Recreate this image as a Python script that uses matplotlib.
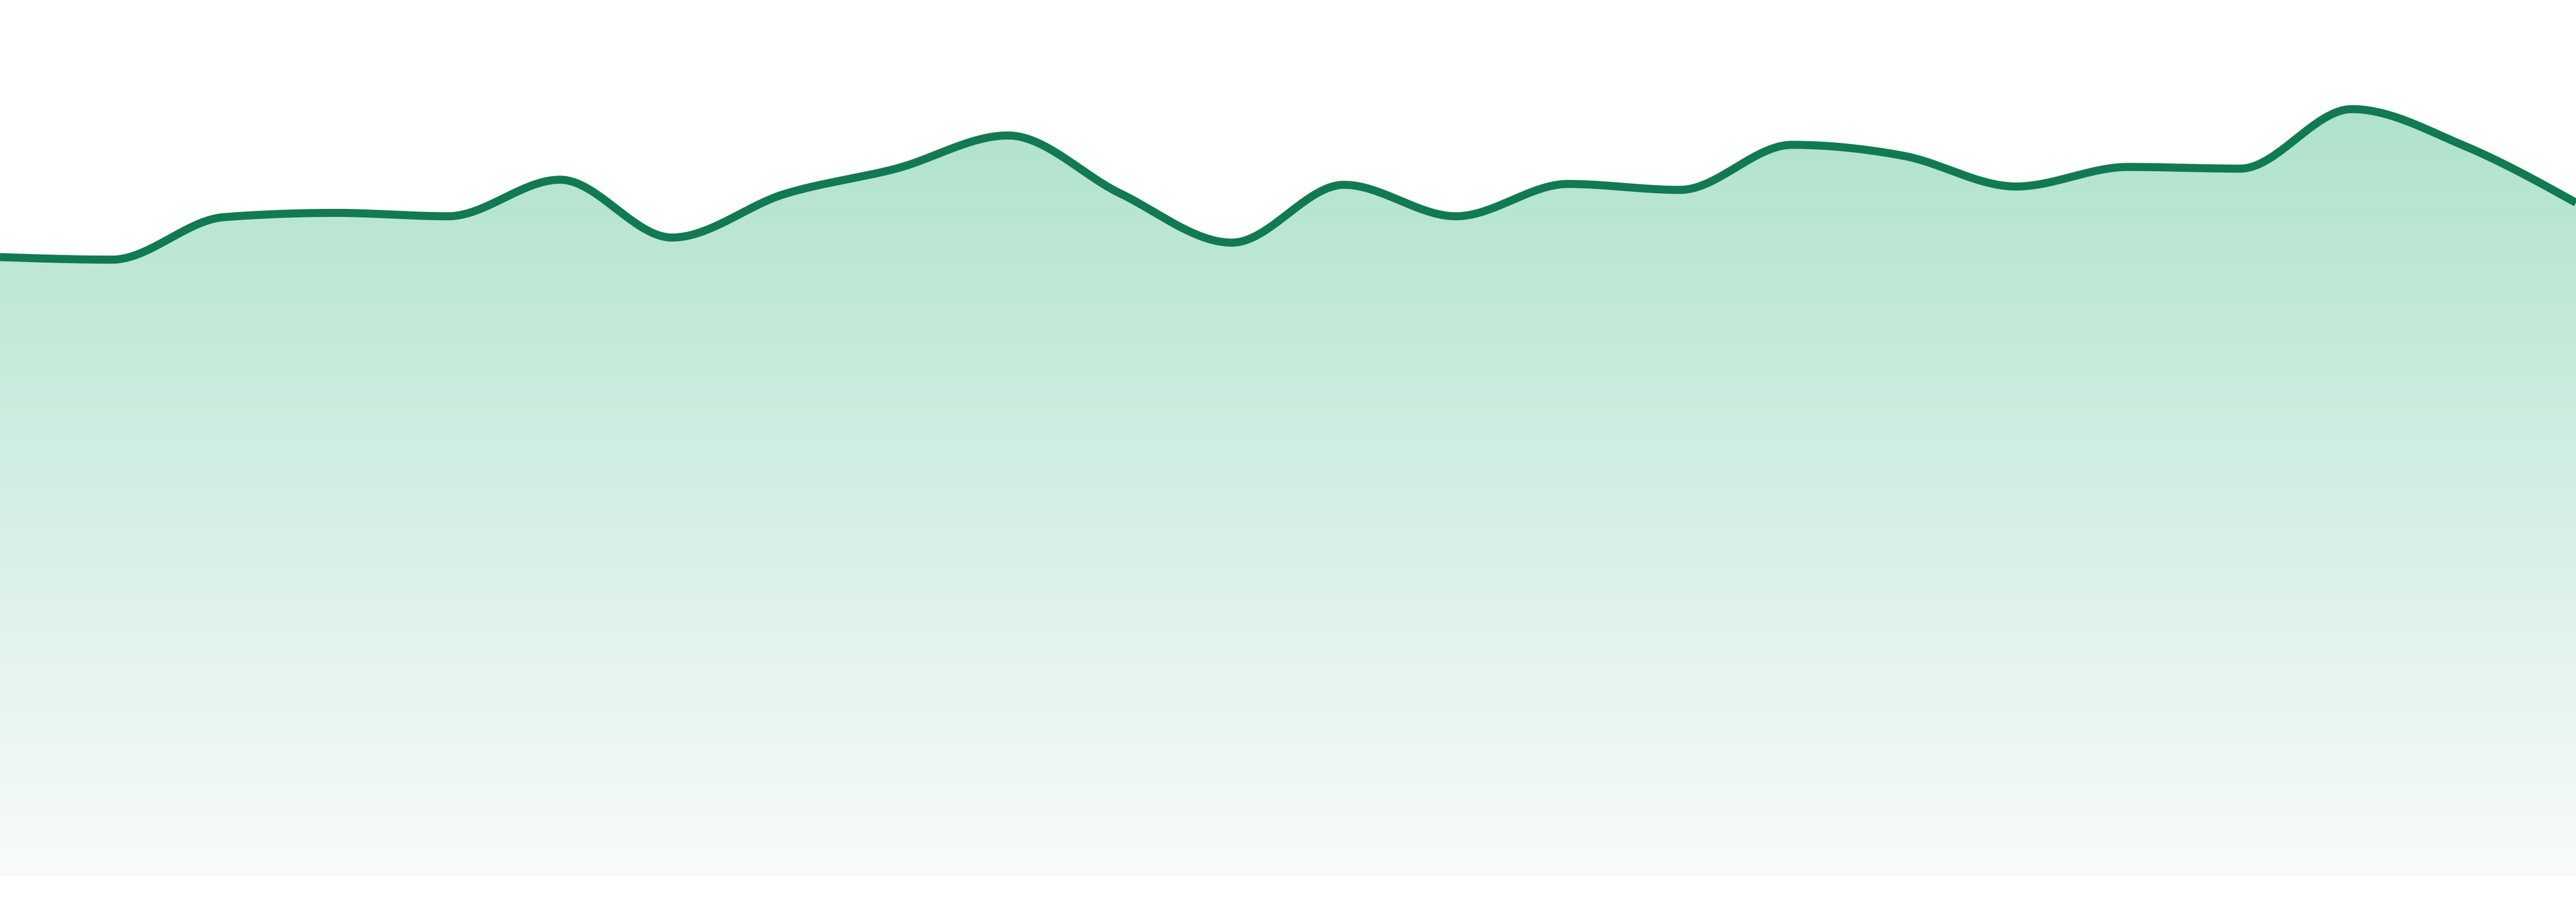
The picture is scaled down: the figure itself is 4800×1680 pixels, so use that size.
import numpy as np
import matplotlib
matplotlib.use("Agg")
import matplotlib.pyplot as plt
from matplotlib.patches import Polygon

# ---- data ----
x_index = list(range(24))
values = [72.8, 72.5, 77.5, 78.0, 77.6, 81.9, 75.1, 80.2, 83.2, 87.1, 80.3, 74.5,
          81.3, 77.6, 81.4, 80.7, 86.0, 84.7, 81.1, 83.4, 83.2, 90.2, 85.9, 79.2]

line_color = "#117a52"
top_rgb = (0.655, 0.878, 0.784)
bottom_rgb = (0.976, 0.984, 0.980)


def monotone_x(xs, ys, n=40):
    """d3.curveMonotoneX style interpolation."""
    xs = np.asarray(xs, float)
    ys = np.asarray(ys, float)
    m = len(xs)
    h = np.diff(xs)
    s = np.diff(ys) / h
    t = np.zeros(m)
    for i in range(1, m - 1):
        s0, s1 = s[i - 1], s[i]
        h0, h1 = h[i - 1], h[i]
        p = (s0 * h1 + s1 * h0) / (h0 + h1)
        t[i] = (np.sign(s0) + np.sign(s1)) * min(abs(s0), abs(s1), 0.5 * abs(p))
    t[0] = (3 * s[0] - t[1]) / 2 if m > 2 else s[0]
    t[-1] = (3 * s[-1] - t[-2]) / 2 if m > 2 else s[-1]
    X, Y = [], []
    for i in range(m - 1):
        x0, x1, y0, y1 = xs[i], xs[i + 1], ys[i], ys[i + 1]
        dx = (x1 - x0) / 3
        c0 = (x0, y0)
        c1 = (x0 + dx, y0 + dx * t[i])
        c2 = (x1 - dx, y1 - dx * t[i + 1])
        c3 = (x1, y1)
        u = np.linspace(0, 1, n, endpoint=(i == m - 2))
        b0 = (1 - u) ** 3
        b1 = 3 * (1 - u) ** 2 * u
        b2 = 3 * (1 - u) * u ** 2
        b3 = u ** 3
        X.append(b0 * c0[0] + b1 * c1[0] + b2 * c2[0] + b3 * c3[0])
        Y.append(b0 * c0[1] + b1 * c1[1] + b2 * c2[1] + b3 * c3[1])
    return np.concatenate(X), np.concatenate(Y)


W, H = 4800, 1680
dpi = 300
fig = plt.figure(figsize=(W / dpi, H / dpi), dpi=dpi)
fig.patch.set_facecolor("white")
ax = fig.add_axes([0, 48 / H, 1, 1584 / H])
ax.set_xlim(x_index[0], x_index[-1])
ax.set_ylim(0, 100)
ax.axis("off")

cx, cy = monotone_x(x_index, values)

# gradient fill clipped to the area under the curve
grad = np.linspace(0, 1, 256)[:, None]
img = np.zeros((256, 1, 3))
for k in range(3):
    img[:, 0, k] = top_rgb[k] + (bottom_rgb[k] - top_rgb[k]) * grad[:, 0]
im = ax.imshow(img, extent=[x_index[0], x_index[-1], 0, 100], aspect="auto",
               origin="upper", interpolation="bilinear", zorder=1)
poly_xy = np.column_stack([np.concatenate([cx, [cx[-1], cx[0]]]),
                           np.concatenate([cy, [0, 0]])])
poly = Polygon(poly_xy, closed=True, facecolor="none", edgecolor="none")
ax.add_patch(poly)
im.set_clip_path(poly)

ax.plot(cx, cy, color=line_color, lw=3.6, solid_capstyle="butt",
        solid_joinstyle="round", zorder=3)

fig.savefig("out.png", dpi=dpi, facecolor="white")
